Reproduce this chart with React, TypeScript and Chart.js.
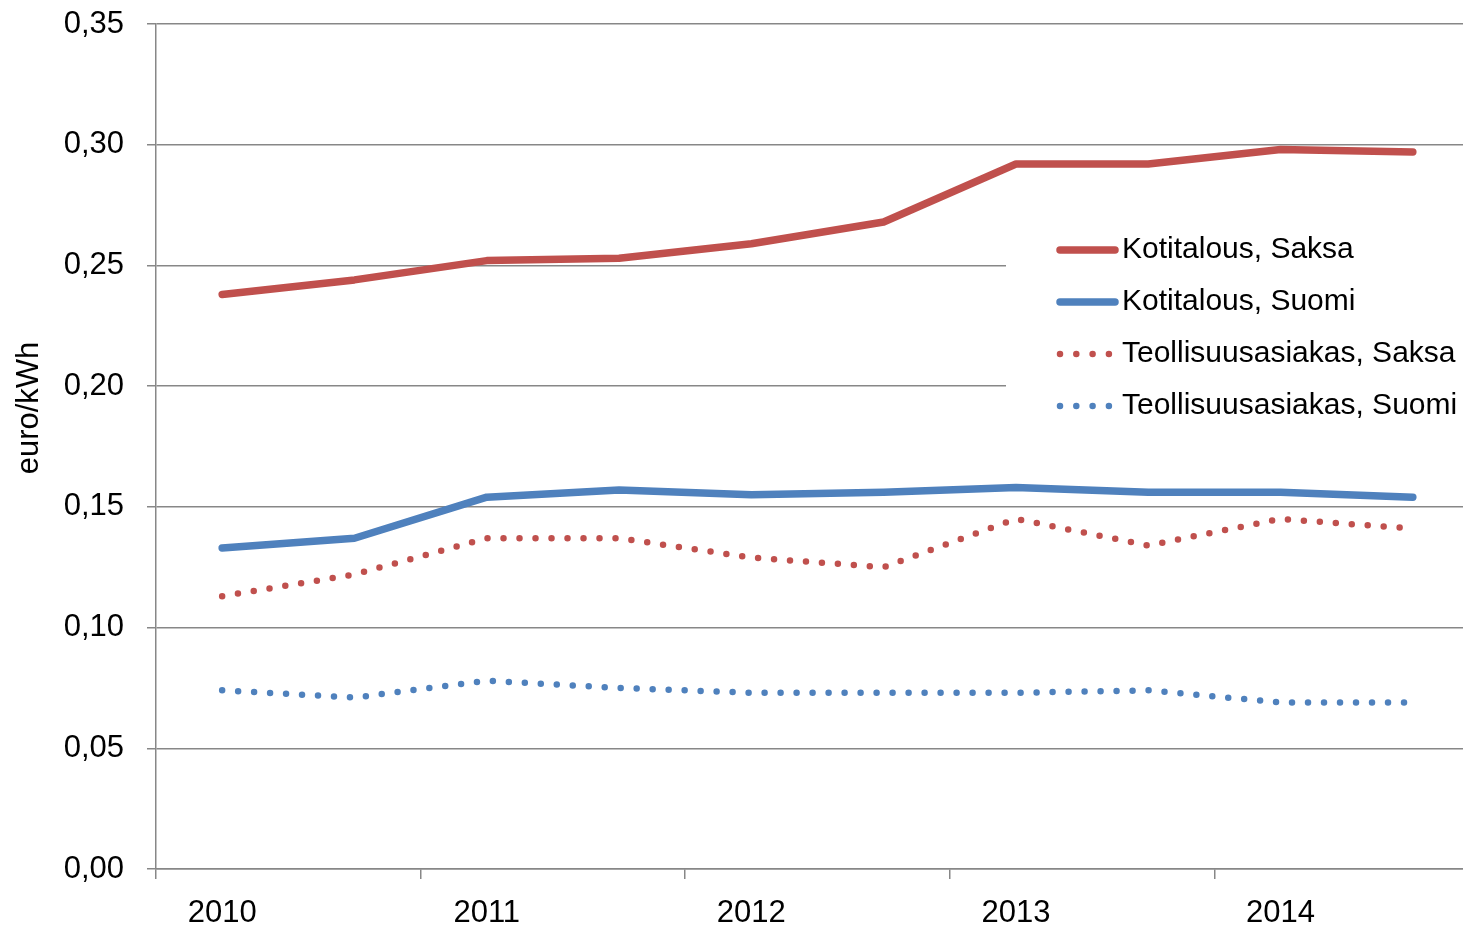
import React, { useEffect, useRef } from "react";
import { Chart, registerables } from "chart.js";

Chart.register(...registerables);

const periods = ["2010 I", "2010 II", "2011 I", "2011 II", "2012 I", "2012 II", "2013 I", "2013 II", "2014 I", "2014 II"];
const yearLabels = ["2010", "", "2011", "", "2012", "", "2013", "", "2014", ""];

const kotitalousSaksa = [0.238, 0.244, 0.252, 0.253, 0.259, 0.268, 0.292, 0.292, 0.298, 0.297];
const kotitalousSuomi = [0.133, 0.137, 0.154, 0.157, 0.155, 0.156, 0.158, 0.156, 0.156, 0.154];
const teollisuusSaksa = [0.113, 0.122, 0.137, 0.137, 0.129, 0.125, 0.145, 0.134, 0.145, 0.141];
const teollisuusSuomi = [0.074, 0.071, 0.078, 0.075, 0.073, 0.073, 0.073, 0.074, 0.069, 0.069];

const seriesNames = ["Kotitalous, Saksa", "Kotitalous, Suomi", "Teollisuusasiakas, Saksa", "Teollisuusasiakas, Suomi"];
const yTitle = "euro/kWh";

const RED = "#C0504D";
const BLUE = "#4F81BD";
const GRID = "#878787";
const FONT = "'Liberation Sans', Arial, sans-serif";

const W = 1480;
const H = 929;

export default function App() {
  const ref = useRef<HTMLCanvasElement | null>(null);

  useEffect(() => {
    const canvas = ref.current;
    if (!canvas) return;
    document.body.style.overflow = "hidden";

    const styles = [
      { color: RED, dotted: false },
      { color: BLUE, dotted: false },
      { color: RED, dotted: true },
      { color: BLUE, dotted: true },
    ];
    const dataArr = [kotitalousSaksa, kotitalousSuomi, teollisuusSaksa, teollisuusSuomi];

    const extras = {
      id: "extras",
      afterDraw(chart: any) {
        const ctx = chart.ctx;
        ctx.save();
        // y title
        ctx.fillStyle = "#000";
        ctx.font = `31px ${FONT}`;
        ctx.textAlign = "center";
        ctx.textBaseline = "middle";
        ctx.translate(29, 408);
        ctx.rotate(-Math.PI / 2);
        ctx.fillText(yTitle, 0, 0);
        ctx.restore();

        // legend
        ctx.save();
        ctx.fillStyle = "#fff";
        ctx.fillRect(1006, 224, W - 1006, 206);
        const rowY = [250, 302, 354, 406];
        styles.forEach((s, i) => {
          const y = rowY[i];
          ctx.save();
          ctx.strokeStyle = s.color;
          ctx.lineCap = "round";
          if (s.dotted) {
            ctx.lineWidth = 6.5;
            ctx.setLineDash([0, 16.3]);
            ctx.beginPath();
            ctx.moveTo(1060, y);
            ctx.lineTo(1110, y);
            ctx.stroke();
          } else {
            ctx.lineWidth = 7.5;
            ctx.beginPath();
            ctx.moveTo(1060, y);
            ctx.lineTo(1115, y);
            ctx.stroke();
          }
          ctx.restore();
          ctx.fillStyle = "#000";
          ctx.font = `30px ${FONT}`;
          ctx.textAlign = "left";
          ctx.textBaseline = "middle";
          ctx.fillText(seriesNames[i], 1122, y);
        });
        ctx.restore();
      },
    };

    const chart = new Chart(canvas, {
      type: "line",
      data: {
        labels: periods,
        datasets: dataArr.map((d, i) => ({
          label: seriesNames[i],
          data: d,
          borderColor: styles[i].color,
          backgroundColor: styles[i].color,
          borderWidth: styles[i].dotted ? 6.5 : 7.5,
          borderDash: styles[i].dotted ? [0, 16] : [],
          borderCapStyle: "round",
          borderJoinStyle: "round",
          pointRadius: 0,
          pointHoverRadius: 0,
          tension: 0,
          fill: false,
        })),
      },
      plugins: [extras],
      options: {
        responsive: false,
        animation: false,
        devicePixelRatio: 1,
        layout: { padding: { top: 24, right: 1, left: 0, bottom: 0 } },
        plugins: {
          legend: { display: false },
          tooltip: { enabled: false },
          title: { display: false },
        },
        scales: {
          x: {
            type: "category",
            offset: true,
            grid: {
              offset: true,
              drawOnChartArea: false,
              drawTicks: true,
              tickLength: 10,
              lineWidth: 1.5,
              color: (c: any) => (c.index !== undefined && c.index % 2 === 0 ? GRID : "rgba(0,0,0,0)"),
            },
            border: { display: true, color: GRID, width: 1.5 },
            ticks: {
              autoSkip: false,
              maxRotation: 0,
              minRotation: 0,
              padding: 16,
              color: "#000",
              font: { family: FONT, size: 31 },
              callback: (_v: any, i: number) => yearLabels[i],
            },
            afterFit: (s: any) => {
              s.height = H - 869;
              s.paddingLeft = 0;
              s.paddingRight = 0;
            },
          },
          y: {
            min: 0,
            max: 0.35,
            grid: { color: GRID, lineWidth: 1.5, tickLength: 9, drawTicks: true },
            border: { display: true, color: GRID, width: 1.5 },
            ticks: {
              stepSize: 0.05,
              padding: 23,
              color: "#000",
              font: { family: FONT, size: 31 },
              callback: (v: any) => (Math.round(Number(v) * 100) / 100).toFixed(2).replace(".", ","),
            },
            afterFit: (s: any) => {
              s.width = 156;
              s.paddingTop = 0;
              s.paddingBottom = 0;
            },
          },
        },
      },
    } as any);

    return () => {
      chart.destroy();
    };
  }, []);

  return (
    <div style={{ position: "fixed", left: 0, top: 0, width: W, height: H, background: "#fff" }}>
      <canvas ref={ref} width={W} height={H} style={{ width: W, height: H, display: "block" }} />
    </div>
  );
}
